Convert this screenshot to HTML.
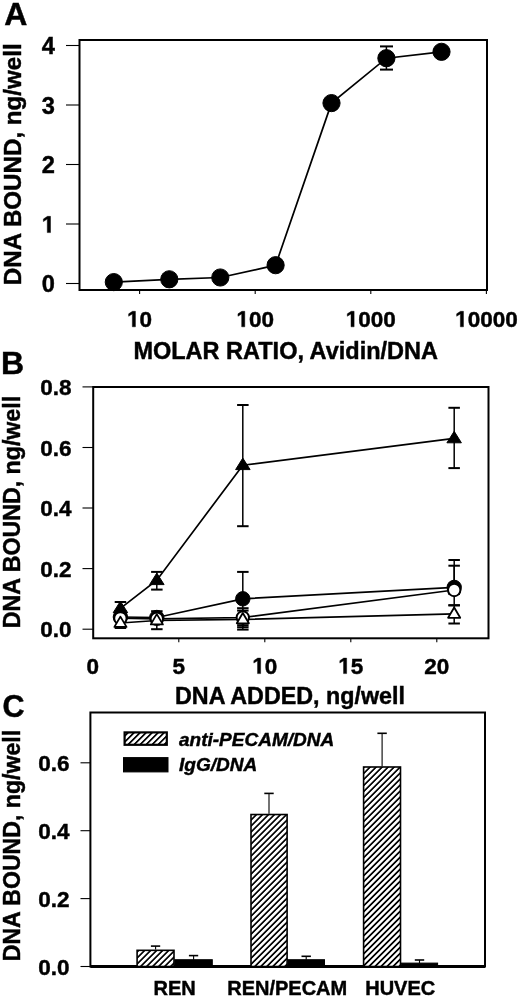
<!DOCTYPE html>
<html><head><meta charset="utf-8"><style>
html,body{margin:0;padding:0;background:#fff;}
svg{display:block;filter:grayscale(1);}
svg text{font-family:"Liberation Sans", sans-serif;font-weight:bold;fill:#000;}
</style></head><body>
<svg width="520" height="997" viewBox="0 0 520 997" stroke="#000" fill="#000">
<g stroke="none">
</g>
<text stroke="#000" stroke-width="0.45" x="4.2" y="25.4" font-size="32" text-anchor="start" >A</text>
<rect x="79.5" y="40" width="407.5" height="250" fill="none" stroke-width="2"/>
<line x1="66.0" y1="283.5" x2="79.5" y2="283.5" stroke-width="1.1"/>
<text stroke="#000" stroke-width="0.45" x="41.77" y="292.1" font-size="23.6">0</text>
<line x1="66.0" y1="224.0" x2="79.5" y2="224.0" stroke-width="1.1"/>
<path d="M478 0V1170L140 959V1180L493 1409H759V0Z" transform="translate(41.77,232.60) scale(0.01152,-0.01152)" stroke-width="39.05"/>
<line x1="66.0" y1="164.5" x2="79.5" y2="164.5" stroke-width="1.1"/>
<text stroke="#000" stroke-width="0.45" x="41.77" y="173.1" font-size="23.6">2</text>
<line x1="66.0" y1="105.0" x2="79.5" y2="105.0" stroke-width="1.1"/>
<text stroke="#000" stroke-width="0.45" x="41.77" y="113.6" font-size="23.6">3</text>
<line x1="66.0" y1="45.5" x2="79.5" y2="45.5" stroke-width="1.1"/>
<text stroke="#000" stroke-width="0.45" x="41.77" y="54.1" font-size="23.6">4</text>
<line x1="139.6" y1="290.0" x2="139.6" y2="294.0" stroke-width="1.1"/>
<path d="M478 0V1170L140 959V1180L493 1409H759V0Z" transform="translate(127.09,326.80) scale(0.01099,-0.01099)" stroke-width="40.96"/>
<text stroke="#000" stroke-width="0.45" x="139.60" y="326.8" font-size="22.5">0</text>
<line x1="255.2" y1="290.0" x2="255.2" y2="294.0" stroke-width="1.1"/>
<path d="M478 0V1170L140 959V1180L493 1409H759V0Z" transform="translate(236.43,326.80) scale(0.01099,-0.01099)" stroke-width="40.96"/>
<text stroke="#000" stroke-width="0.45" x="248.94" y="326.8" font-size="22.5">0</text>
<text stroke="#000" stroke-width="0.45" x="261.46" y="326.8" font-size="22.5">0</text>
<line x1="370.8" y1="290.0" x2="370.8" y2="294.0" stroke-width="1.1"/>
<path d="M478 0V1170L140 959V1180L493 1409H759V0Z" transform="translate(345.77,326.80) scale(0.01099,-0.01099)" stroke-width="40.96"/>
<text stroke="#000" stroke-width="0.45" x="358.29" y="326.8" font-size="22.5">0</text>
<text stroke="#000" stroke-width="0.45" x="370.80" y="326.8" font-size="22.5">0</text>
<text stroke="#000" stroke-width="0.45" x="383.31" y="326.8" font-size="22.5">0</text>
<line x1="486.4" y1="290.0" x2="486.4" y2="294.0" stroke-width="1.1"/>
<path d="M478 0V1170L140 959V1180L493 1409H759V0Z" transform="translate(455.12,326.80) scale(0.01099,-0.01099)" stroke-width="40.96"/>
<text stroke="#000" stroke-width="0.45" x="467.63" y="326.8" font-size="22.5">0</text>
<text stroke="#000" stroke-width="0.45" x="480.14" y="326.8" font-size="22.5">0</text>
<text stroke="#000" stroke-width="0.45" x="492.66" y="326.8" font-size="22.5">0</text>
<text stroke="#000" stroke-width="0.45" x="505.17" y="326.8" font-size="22.5">0</text>
<polyline fill="none" stroke-width="1.7" points="113.8,282.1 169.3,279.3 220.3,277.5 275.6,265.2 331.5,103.1 386.4,58.2 441.5,51.8"/>
<line x1="386.4" y1="46.4" x2="386.4" y2="69.6" stroke-width="1.5"/>
<line x1="380.0" y1="46.4" x2="393.0" y2="46.4" stroke-width="2"/>
<line x1="380.0" y1="69.6" x2="393.0" y2="69.6" stroke-width="2"/>
<circle cx="113.8" cy="282.1" r="8.6"/>
<circle cx="169.3" cy="279.3" r="8.6"/>
<circle cx="220.3" cy="277.5" r="8.6"/>
<circle cx="275.6" cy="265.2" r="8.6"/>
<circle cx="331.5" cy="103.1" r="8.6"/>
<circle cx="386.4" cy="58.2" r="8.6"/>
<circle cx="441.5" cy="51.8" r="8.6"/>
<text stroke="#000" stroke-width="0.45" x="285.7" y="358.5" font-size="23.5" text-anchor="middle" >MOLAR RATIO, Avidin/DNA</text>
<text stroke="#000" stroke-width="0.45" transform="translate(21.0,164.3) rotate(-90)" x="0" y="0" font-size="24.15" text-anchor="middle">DNA BOUND, ng/well</text>
<text stroke="#000" stroke-width="0.45" x="1.0" y="373.8" font-size="32" text-anchor="start" >B</text>
<rect x="93.2" y="387" width="395.3" height="251.29999999999995" fill="none" stroke-width="2"/>
<line x1="82.5" y1="629.2" x2="93.2" y2="629.2" stroke-width="1.1"/>
<text stroke="#000" stroke-width="0.45" x="40.22" y="637.2" font-size="22.5">0</text>
<text stroke="#000" stroke-width="0.45" x="52.74" y="637.2" font-size="22.5">.</text>
<text stroke="#000" stroke-width="0.45" x="58.99" y="637.2" font-size="22.5">0</text>
<line x1="82.5" y1="568.6" x2="93.2" y2="568.6" stroke-width="1.1"/>
<text stroke="#000" stroke-width="0.45" x="40.22" y="576.6" font-size="22.5">0</text>
<text stroke="#000" stroke-width="0.45" x="52.74" y="576.6" font-size="22.5">.</text>
<text stroke="#000" stroke-width="0.45" x="58.99" y="576.6" font-size="22.5">2</text>
<line x1="82.5" y1="508.0" x2="93.2" y2="508.0" stroke-width="1.1"/>
<text stroke="#000" stroke-width="0.45" x="40.22" y="516.0" font-size="22.5">0</text>
<text stroke="#000" stroke-width="0.45" x="52.74" y="516.0" font-size="22.5">.</text>
<text stroke="#000" stroke-width="0.45" x="58.99" y="516.0" font-size="22.5">4</text>
<line x1="82.5" y1="447.5" x2="93.2" y2="447.5" stroke-width="1.1"/>
<text stroke="#000" stroke-width="0.45" x="40.22" y="455.5" font-size="22.5">0</text>
<text stroke="#000" stroke-width="0.45" x="52.74" y="455.5" font-size="22.5">.</text>
<text stroke="#000" stroke-width="0.45" x="58.99" y="455.5" font-size="22.5">6</text>
<line x1="82.5" y1="386.9" x2="93.2" y2="386.9" stroke-width="1.1"/>
<text stroke="#000" stroke-width="0.45" x="40.22" y="394.9" font-size="22.5">0</text>
<text stroke="#000" stroke-width="0.45" x="52.74" y="394.9" font-size="22.5">.</text>
<text stroke="#000" stroke-width="0.45" x="58.99" y="394.9" font-size="22.5">8</text>
<text stroke="#000" stroke-width="0.45" x="86.54" y="673.6" font-size="22.5">0</text>
<line x1="178.8" y1="638.3" x2="178.8" y2="642.3" stroke-width="1.1"/>
<text stroke="#000" stroke-width="0.45" x="172.54" y="673.6" font-size="22.5">5</text>
<line x1="264.8" y1="638.3" x2="264.8" y2="642.3" stroke-width="1.1"/>
<path d="M478 0V1170L140 959V1180L493 1409H759V0Z" transform="translate(252.29,673.60) scale(0.01099,-0.01099)" stroke-width="40.96"/>
<text stroke="#000" stroke-width="0.45" x="264.80" y="673.6" font-size="22.5">0</text>
<line x1="350.8" y1="638.3" x2="350.8" y2="642.3" stroke-width="1.1"/>
<path d="M478 0V1170L140 959V1180L493 1409H759V0Z" transform="translate(338.29,673.60) scale(0.01099,-0.01099)" stroke-width="40.96"/>
<text stroke="#000" stroke-width="0.45" x="350.80" y="673.6" font-size="22.5">5</text>
<line x1="436.8" y1="638.3" x2="436.8" y2="642.3" stroke-width="1.1"/>
<text stroke="#000" stroke-width="0.45" x="424.29" y="673.6" font-size="22.5">2</text>
<text stroke="#000" stroke-width="0.45" x="436.80" y="673.6" font-size="22.5">0</text>
<text stroke="#000" stroke-width="0.45" x="290.0" y="704.3" font-size="23.3" text-anchor="middle" >DNA ADDED, ng/well</text>
<text stroke="#000" stroke-width="0.45" transform="translate(20.0,512.0) rotate(-90)" x="0" y="0" font-size="23.2" text-anchor="middle">DNA BOUND, ng/well</text>
<line x1="120.4" y1="602.0" x2="120.4" y2="611.0" stroke-width="1.5"/>
<line x1="114.7" y1="602.0" x2="126.2" y2="602.0" stroke-width="2"/>
<line x1="114.7" y1="611.0" x2="126.2" y2="611.0" stroke-width="2"/>
<line x1="156.8" y1="571.9" x2="156.8" y2="589.6" stroke-width="1.5"/>
<line x1="151.1" y1="571.9" x2="162.6" y2="571.9" stroke-width="2"/>
<line x1="151.1" y1="589.6" x2="162.6" y2="589.6" stroke-width="2"/>
<line x1="242.8" y1="405.0" x2="242.8" y2="526.2" stroke-width="1.5"/>
<line x1="237.1" y1="405.0" x2="248.6" y2="405.0" stroke-width="2"/>
<line x1="237.1" y1="526.2" x2="248.6" y2="526.2" stroke-width="2"/>
<line x1="454.2" y1="407.8" x2="454.2" y2="468.1" stroke-width="1.5"/>
<line x1="448.4" y1="407.8" x2="459.9" y2="407.8" stroke-width="2"/>
<line x1="448.4" y1="468.1" x2="459.9" y2="468.1" stroke-width="2"/>
<line x1="242.8" y1="571.9" x2="242.8" y2="627.2" stroke-width="1.5"/>
<line x1="237.1" y1="571.9" x2="248.6" y2="571.9" stroke-width="2"/>
<line x1="237.1" y1="627.2" x2="248.6" y2="627.2" stroke-width="2"/>
<line x1="454.2" y1="560.0" x2="454.2" y2="605.3" stroke-width="1.5"/>
<line x1="448.4" y1="560.0" x2="459.9" y2="560.0" stroke-width="2"/>
<line x1="448.4" y1="605.3" x2="459.9" y2="605.3" stroke-width="2"/>
<line x1="242.8" y1="608.2" x2="242.8" y2="629.6" stroke-width="1.5"/>
<line x1="237.1" y1="608.2" x2="248.6" y2="608.2" stroke-width="2"/>
<line x1="237.1" y1="629.6" x2="248.6" y2="629.6" stroke-width="2"/>
<line x1="242.8" y1="610.6" x2="242.8" y2="625.2" stroke-width="1.5"/>
<line x1="237.1" y1="610.6" x2="248.6" y2="610.6" stroke-width="2"/>
<line x1="237.1" y1="625.2" x2="248.6" y2="625.2" stroke-width="2"/>
<line x1="454.2" y1="565.7" x2="454.2" y2="594.0" stroke-width="1.5"/>
<line x1="448.4" y1="565.7" x2="459.9" y2="565.7" stroke-width="2"/>
<line x1="448.4" y1="594.0" x2="459.9" y2="594.0" stroke-width="2"/>
<line x1="454.2" y1="605.3" x2="454.2" y2="623.5" stroke-width="1.5"/>
<line x1="448.4" y1="605.3" x2="459.9" y2="605.3" stroke-width="2"/>
<line x1="448.4" y1="623.5" x2="459.9" y2="623.5" stroke-width="2"/>
<line x1="156.8" y1="611.2" x2="156.8" y2="629.2" stroke-width="1.5"/>
<line x1="151.1" y1="611.2" x2="162.6" y2="611.2" stroke-width="2"/>
<line x1="151.1" y1="629.2" x2="162.6" y2="629.2" stroke-width="2"/>
<line x1="120.4" y1="613.0" x2="120.4" y2="628.0" stroke-width="1.5"/>
<line x1="114.7" y1="613.0" x2="126.2" y2="613.0" stroke-width="2"/>
<line x1="114.7" y1="628.0" x2="126.2" y2="628.0" stroke-width="2"/>
<polyline fill="none" stroke-width="1.7" points="120.4,623.0 156.8,620.5 242.8,619.4 454.2,613.9"/>
<polyline fill="none" stroke-width="1.7" points="120.4,618.2 156.8,618.8 242.8,617.5 454.2,590.0"/>
<polyline fill="none" stroke-width="1.7" points="120.4,617.0 156.8,617.5 242.8,598.8 454.2,587.4"/>
<polyline fill="none" stroke-width="1.7" points="120.4,608.3 156.8,580.2 242.8,465.2 454.2,438.4"/>
<circle cx="120.4" cy="617.0" r="7.2"/>
<circle cx="120.4" cy="618.2" r="6.2" fill="#fff" stroke-width="2"/>
<polygon points="120.4,616.6 114.4,626.9 126.5,626.9" fill="#fff" stroke-width="1.8" stroke-linejoin="round"/>
<polygon points="120.4,601.2 113.2,612.7 127.7,612.7" stroke="#000" stroke-width="1" stroke-linejoin="miter"/>
<circle cx="156.8" cy="617.5" r="7.2"/>
<circle cx="156.8" cy="618.8" r="6.2" fill="#fff" stroke-width="2"/>
<polygon points="156.8,614.1 150.8,624.4 162.9,624.4" fill="#fff" stroke-width="1.8" stroke-linejoin="round"/>
<polygon points="156.8,573.1 149.6,584.6 164.1,584.6" stroke="#000" stroke-width="1" stroke-linejoin="miter"/>
<circle cx="242.8" cy="598.8" r="7.2"/>
<circle cx="242.8" cy="617.5" r="6.2" fill="#fff" stroke-width="2"/>
<polygon points="242.8,613.0 236.8,623.3 248.9,623.3" fill="#fff" stroke-width="1.8" stroke-linejoin="round"/>
<polygon points="242.8,458.1 235.6,469.6 250.1,469.6" stroke="#000" stroke-width="1" stroke-linejoin="miter"/>
<circle cx="454.2" cy="587.4" r="7.2"/>
<circle cx="454.2" cy="590.0" r="6.2" fill="#fff" stroke-width="2"/>
<polygon points="454.2,607.5 448.1,617.8 460.2,617.8" fill="#fff" stroke-width="1.8" stroke-linejoin="round"/>
<polygon points="454.2,431.3 446.9,442.8 461.4,442.8" stroke="#000" stroke-width="1" stroke-linejoin="miter"/>
<text stroke="#000" stroke-width="0.45" x="2.6" y="716.5" font-size="30.5" text-anchor="start" >C</text>
<rect x="90.4" y="712.5" width="394.6" height="254.0" fill="none" stroke-width="2"/>
<line x1="90.4" y1="966.5" x2="485.0" y2="966.5" stroke-width="3"/>
<line x1="80.5" y1="966.5" x2="90.4" y2="966.5" stroke-width="1.1"/>
<text stroke="#000" stroke-width="0.45" x="38.22" y="974.5" font-size="22.5">0</text>
<text stroke="#000" stroke-width="0.45" x="50.74" y="974.5" font-size="22.5">.</text>
<text stroke="#000" stroke-width="0.45" x="56.99" y="974.5" font-size="22.5">0</text>
<line x1="80.5" y1="898.6" x2="90.4" y2="898.6" stroke-width="1.1"/>
<text stroke="#000" stroke-width="0.45" x="38.22" y="906.6" font-size="22.5">0</text>
<text stroke="#000" stroke-width="0.45" x="50.74" y="906.6" font-size="22.5">.</text>
<text stroke="#000" stroke-width="0.45" x="56.99" y="906.6" font-size="22.5">2</text>
<line x1="80.5" y1="830.7" x2="90.4" y2="830.7" stroke-width="1.1"/>
<text stroke="#000" stroke-width="0.45" x="38.22" y="838.7" font-size="22.5">0</text>
<text stroke="#000" stroke-width="0.45" x="50.74" y="838.7" font-size="22.5">.</text>
<text stroke="#000" stroke-width="0.45" x="56.99" y="838.7" font-size="22.5">4</text>
<line x1="80.5" y1="762.8" x2="90.4" y2="762.8" stroke-width="1.1"/>
<text stroke="#000" stroke-width="0.45" x="38.22" y="770.8" font-size="22.5">0</text>
<text stroke="#000" stroke-width="0.45" x="50.74" y="770.8" font-size="22.5">.</text>
<text stroke="#000" stroke-width="0.45" x="56.99" y="770.8" font-size="22.5">6</text>
<defs><pattern id="h" patternUnits="userSpaceOnUse" width="4.25" height="4.25" patternTransform="rotate(45)"><rect width="4.25" height="4.25" fill="#fff" stroke="none"/><rect width="1.7" height="4.25" fill="#000" stroke="none"/></pattern></defs>
<line x1="155.6" y1="946.1" x2="155.6" y2="949.5" stroke-width="1.1"/>
<line x1="150.9" y1="946.1" x2="160.2" y2="946.1" stroke-width="1.6"/>
<rect x="137.10000000000002" y="950.3249999999999" width="36.9" height="16.175000000000022" fill="url(#h)" stroke-width="1.6"/>
<line x1="193.6" y1="955.6" x2="193.6" y2="959.7" stroke-width="1.1"/>
<line x1="188.9" y1="955.6" x2="198.2" y2="955.6" stroke-width="1.6"/>
<rect x="174.8" y="959.71" width="37.5" height="6.789999999999964" />
<line x1="269.0" y1="793.4" x2="269.0" y2="813.7" stroke-width="1.1"/>
<line x1="264.3" y1="793.4" x2="273.7" y2="793.4" stroke-width="1.6"/>
<rect x="251.0" y="814.525" width="36.09999999999999" height="151.97499999999997" fill="url(#h)" stroke-width="1.6"/>
<line x1="306.2" y1="956.3" x2="306.2" y2="959.7" stroke-width="1.1"/>
<line x1="301.5" y1="956.3" x2="310.9" y2="956.3" stroke-width="1.6"/>
<rect x="287.9" y="959.71" width="36.60000000000002" height="6.789999999999964" />
<line x1="382.1" y1="733.3" x2="382.1" y2="766.2" stroke-width="1.1"/>
<line x1="377.4" y1="733.3" x2="386.8" y2="733.3" stroke-width="1.6"/>
<rect x="363.6" y="766.995" width="36.9" height="199.50499999999994" fill="url(#h)" stroke-width="1.6"/>
<line x1="419.5" y1="960.0" x2="419.5" y2="963.1" stroke-width="1.1"/>
<line x1="414.8" y1="960.0" x2="424.2" y2="960.0" stroke-width="1.6"/>
<rect x="401.3" y="963.105" width="36.30000000000001" height="3.394999999999982" />
<text stroke="#000" stroke-width="0.45" x="174.6" y="994.5" font-size="20" text-anchor="middle" >REN</text>
<text stroke="#000" stroke-width="0.45" x="287.2" y="994.5" font-size="20" text-anchor="middle" >REN/PECAM</text>
<text stroke="#000" stroke-width="0.45" x="400.2" y="994.5" font-size="20" text-anchor="middle" >HUVEC</text>
<rect x="124.6" y="732.4" width="42.2" height="12.4" fill="url(#h)" stroke-width="2.2"/>
<rect x="123.5" y="757.6" width="44.5" height="14.3"/>
<text stroke="#000" stroke-width="0.45" x="179.0" y="745.5" font-size="19" text-anchor="start" font-style="italic">anti-PECAM/DNA</text>
<text stroke="#000" stroke-width="0.45" x="179.0" y="770.6" font-size="19" text-anchor="start" font-style="italic">IgG/DNA</text>
<text stroke="#000" stroke-width="0.45" transform="translate(19.8,845.6) rotate(-90)" x="0" y="0" font-size="23.1" text-anchor="middle">DNA BOUND, ng/well</text>
</svg>
</body></html>
